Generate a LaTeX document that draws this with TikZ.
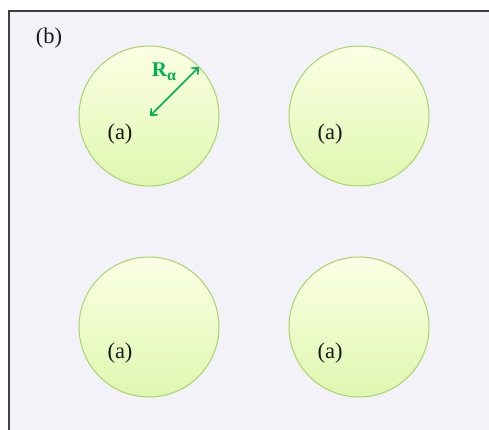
\documentclass[tikz,border=0pt]{standalone}
\usepackage{fontspec}
\setmainfont{Liberation Serif}
\usetikzlibrary{arrows.meta,shadings}
\definecolor{bgl}{HTML}{F4F2F9}
\definecolor{framec}{HTML}{404040}
\definecolor{circtop}{HTML}{FCFFE4}
\definecolor{circbot}{HTML}{DFF7B0}
\definecolor{circline}{HTML}{A6D46A}
\definecolor{arrg}{HTML}{00B050}
\begin{document}
\begin{tikzpicture}[x=1pt,y=1pt,
  blob/.style={circle,minimum size=140pt,inner sep=0pt,draw=circline,line width=1pt,top color=circtop,bottom color=circbot},
  lab/.style={font=\fontsize{22.5}{25}\selectfont,text=black!90}]
\clip (0,0) rectangle (489,429);
\fill[white] (0,0) rectangle (489,429);
\draw[framec,line width=1.3pt,fill=bgl] (9,-20) rectangle (520,418);
\node[lab] (b) at (49,391) {(b)};
\node[blob] (c1) at (149,313) {};
\node[blob] (c2) at (359,313) {};
\node[blob] (c3) at (149,102) {};
\node[blob] (c4) at (359,102) {};
\node[lab] (a1) at (120,295) {(a)};
\node[lab] (a2) at (330,295) {(a)};
\node[lab] (a3) at (120,76) {(a)};
\node[lab] (a4) at (330,76) {(a)};
\coordinate (p1) at (150,313);
\coordinate (p2) at (199,362);
\draw[arrg,line width=1.6pt,{Straight Barb[length=5pt,width=9pt]}-{Straight Barb[length=5pt,width=9pt]}] (p1) -- (p2);
\node[font=\fontsize{21}{24}\selectfont\bfseries,text=arrg] (r) at (164,357) {R\raisebox{-4pt}{\fontsize{16}{18}\selectfont α}};
\end{tikzpicture}
\end{document}
